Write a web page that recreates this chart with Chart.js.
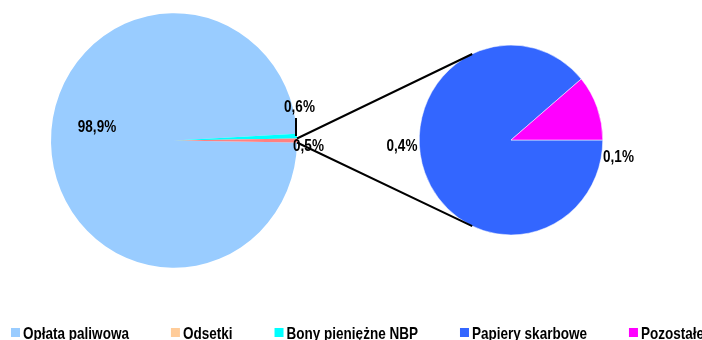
<!DOCTYPE html>
<html lang="pl">
<head>
<meta charset="utf-8">
<title>Struktura przychodów</title>
<script src="https://cdn.jsdelivr.net/npm/chart.js@4/dist/chart.umd.min.js"></script>
<style>
html, body { margin: 0; padding: 0; background: #fff; }
#wrap { position: relative; width: 702px; height: 340px; overflow: hidden; background: #fff; }
#wrap canvas { position: absolute; left: 0; top: 0; }
</style>
</head>
<body>
<div id="wrap">
  <canvas id="mainPie" width="702" height="340"></canvas>
  <canvas id="detailPie" width="702" height="340"></canvas>
</div>
<script>
// Shares of income, in percent
const mainLabels = ['Opłata paliwowa', 'Odsetki', 'Bony pieniężne NBP'];
const mainValues = [98.9, 0, 0.61];
const detailLabels = ['Papiery skarbowe', 'Pozostałe'];
const detailValues = [0.44, 0.055];

const mainColors = ['#99CCFF', '#FFCC99', '#00FFFF'];
const detailColors = ['#3366FF', '#FF00FF'];
const groupColor = '#FF8080';

const FONT = '"Liberation Sans", Arial, sans-serif';
const TEXT_FONT = 'bold 16px ' + FONT;
const NARROW = 0.845;   // horizontal squeeze for a condensed face
const STRETCH = 1.035;  // the whole drawing is slightly taller than wide
Chart.defaults.font.family = FONT;

const sum = arr => arr.reduce((s, v) => s + v, 0);
const groupValue = sum(detailValues);
const grandTotal = sum(mainValues) + groupValue;
const pct = v => (v / grandTotal * 100).toFixed(1).replace('.', ',') + '%';

function narrowText(ctx, text, x, y, align) {
  ctx.save();
  ctx.font = TEXT_FONT;
  ctx.fillStyle = '#000';
  ctx.textAlign = align;
  ctx.textBaseline = 'alphabetic';
  ctx.translate(x, y);
  ctx.scale(NARROW, 1);
  ctx.fillText(text, 0, 0);
  ctx.restore();
}
function narrowWidth(ctx, text) {
  ctx.save();
  ctx.font = TEXT_FONT;
  const w = ctx.measureText(text).width * NARROW;
  ctx.restore();
  return w;
}

// Vertical stretch applied around each chart's drawing
const stretch = {
  id: 'stretch',
  beforeDraw(chart) {
    chart.ctx.save();
    chart.ctx.scale(1, STRETCH);
  },
  afterDraw(chart) {
    chart.ctx.restore();
  }
};

// Percentage labels placed relative to each pie's centre
const sliceLabels = {
  id: 'sliceLabels',
  afterDatasetsDraw(chart, args, opts) {
    const ctx = chart.ctx;
    const arcs = chart.getDatasetMeta(0).data;
    const values = chart.data.datasets[0].data;
    opts.offsets.forEach((off, i) => {
      if (!off || !values[i]) return;
      const a = arcs[i];
      narrowText(ctx, pct(values[i]), a.x + off[0], a.y + off[1], 'center');
    });
    if (opts.leader) {
      const a = arcs[opts.leader.index];
      const lx = a.x + a.outerRadius - 1;
      ctx.save();
      ctx.strokeStyle = '#000';
      ctx.lineWidth = 2;
      ctx.beginPath();
      ctx.moveTo(lx, a.y + opts.leader.from);
      ctx.lineTo(lx, a.y + opts.leader.to);
      ctx.stroke();
      ctx.restore();
    }
  }
};

const mainChart = new Chart(document.getElementById('mainPie'), {
  type: 'pie',
  data: {
    labels: [...mainLabels, 'Inne'],
    datasets: [{
      data: [...mainValues, groupValue],
      backgroundColor: [...mainColors, groupColor],
      borderWidth: 0
    }]
  },
  options: {
    responsive: false,
    animation: false,
    events: [],
    // group slice centred on the right-hand side
    rotation: 90 + (groupValue / grandTotal) * 180,
    layout: { padding: { left: 51, right: 405, top: 12.75, bottom: 81.25 } },
    plugins: {
      legend: { display: false },
      tooltip: { enabled: false },
      sliceLabels: {
        offsets: [[-77, -8.2], null, [125.5, -27.5], [134.5, 10.1]],
        leader: { index: 2, from: -4.3, to: -21.7 }
      }
    }
  },
  plugins: [stretch, sliceLabels]
});

// Connector lines from the group slice to the detail pie, plus the legend
const overlay = {
  id: 'overlay',
  afterDatasetsDraw(chart) {
    const ctx = chart.ctx;
    const mainArcs = mainChart.getDatasetMeta(0).data;
    const g = mainArcs[mainArcs.length - 1];
    const d = chart.getDatasetMeta(0).data[0];
    const ang = 115 * Math.PI / 180;
    ctx.save();
    ctx.strokeStyle = '#000';
    ctx.lineWidth = 2;
    ctx.beginPath();
    ctx.moveTo(g.x + g.outerRadius * Math.cos(g.startAngle), g.y + g.outerRadius * Math.sin(g.startAngle));
    ctx.lineTo(d.x + d.outerRadius * Math.cos(-ang), d.y + d.outerRadius * Math.sin(-ang));
    ctx.moveTo(g.x + g.outerRadius * Math.cos(g.endAngle), g.y + g.outerRadius * Math.sin(g.endAngle));
    ctx.lineTo(d.x + d.outerRadius * Math.cos(ang), d.y + d.outerRadius * Math.sin(ang));
    ctx.stroke();
    ctx.restore();

    // legend
    const names = [...mainLabels, ...detailLabels];
    const cols = [...mainColors, ...detailColors];
    let x = 11;
    names.forEach((name, i) => {
      ctx.fillStyle = cols[i];
      ctx.fillRect(x, 316.9, 9, 8.7);
      narrowText(ctx, name, x + 12, 327.5, 'left');
      x += 12 + narrowWidth(ctx, name) + 42;
    });
  }
};

new Chart(document.getElementById('detailPie'), {
  type: 'pie',
  data: {
    labels: detailLabels,
    datasets: [{
      data: detailValues,
      backgroundColor: detailColors,
      borderColor: '#ffffff',
      borderWidth: 0.5
    }]
  },
  options: {
    responsive: false,
    animation: false,
    events: [],
    rotation: 90,
    layout: { padding: { left: 419, right: 99, top: 43.27, bottom: 112.73 } },
    plugins: {
      legend: { display: false },
      tooltip: { enabled: false },
      sliceLabels: { offsets: [[-109, 10.6], [107.5, 21.3]] }
    }
  },
  plugins: [stretch, sliceLabels, overlay]
});
</script>
</body>
</html>
